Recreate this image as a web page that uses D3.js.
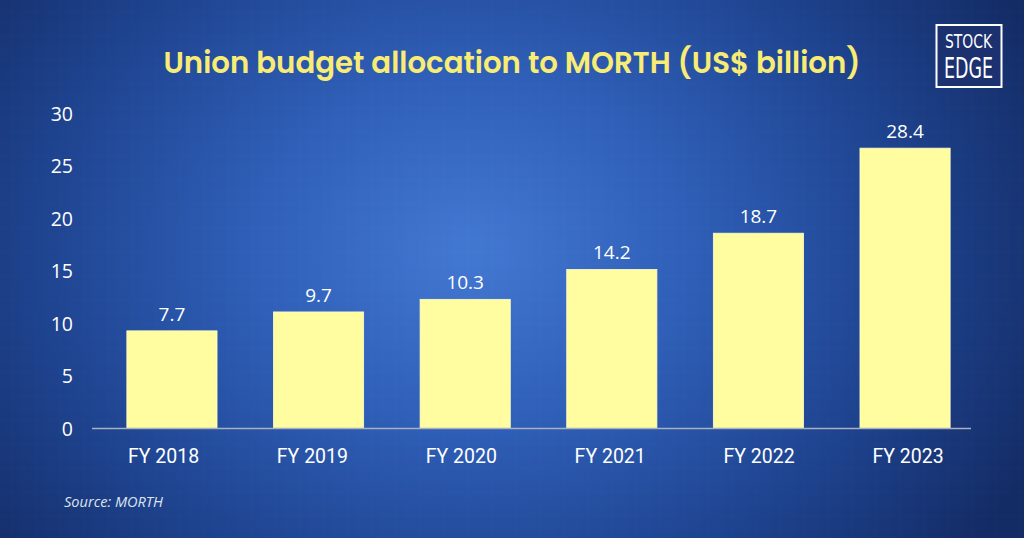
<!DOCTYPE html>
<html><head><meta charset="utf-8">
<script src="https://cdn.jsdelivr.net/npm/d3@7"></script>
<style>html,body{margin:0;padding:0;background:#16306e;}svg{display:block;}</style>
</head><body>
<svg id="c" width="1024" height="538"></svg>
<script>
const categories = ["FY 2018","FY 2019","FY 2020","FY 2021","FY 2022","FY 2023"];
// bar heights as drawn in the picture
const barValues = [9.3, 11.1, 12.3, 15.15, 18.6, 26.7];
// printed value labels
const labelValues = ["7.7","9.7","10.3","14.2","18.7","28.4"];
const yTicks = [0,5,10,15,20,25,30];
const title = "Union budget allocation to MORTH (US$ billion)";
const source = "Source: MORTH";

const svg = d3.select("#c");
const defs = svg.append("defs");
const rg = defs.append("radialGradient").attr("id","bg")
  .attr("gradientUnits","userSpaceOnUse").attr("cx",470).attr("cy",250).attr("r",620)
  .attr("gradientTransform","matrix(1,0,0,0.8,0,50)");
rg.append("stop").attr("offset","0").attr("stop-color","#4378d2");
rg.append("stop").attr("offset","0.35").attr("stop-color","#2f5fb8");
rg.append("stop").attr("offset","0.7").attr("stop-color","#1e438f");
rg.append("stop").attr("offset","1").attr("stop-color","#142c66");
svg.append("rect").attr("width",1024).attr("height",538).attr("fill","url(#bg)");

// faint grid texture
const gridG = svg.append("g").attr("stroke","#ffffff").attr("stroke-opacity",0.02);
d3.range(0,1024,12).forEach(x=>gridG.append("line").attr("x1",x).attr("x2",x).attr("y1",0).attr("y2",538));
d3.range(0,538,12).forEach(y=>gridG.append("line").attr("y1",y).attr("y2",y).attr("x1",0).attr("x2",1024));

const x = d3.scaleBand().domain(categories).range([99,978]).paddingInner(0.385).paddingOuter(0.19);
const xLab = d3.scalePoint().domain(categories).range([163,907.5]);
const y = d3.scaleLinear().domain([0,30]).range([428.5,113.5]);

// title
svg.append("text").attr("x",512).attr("y",73).attr("text-anchor","middle")
  .attr("font-family","Poppins, 'Open Sans', sans-serif").attr("font-weight",600)
  .attr("font-size",30).attr("fill","#f8ec74")
  .attr("textLength",697).attr("lengthAdjust","spacingAndGlyphs").text(title);

// y axis labels
const yAxis = d3.axisLeft(y).tickValues(yTicks).tickSize(0).tickPadding(0);
const ya = svg.append("g").attr("transform","translate(73,0)").call(yAxis);
ya.select(".domain").remove();
ya.selectAll("text").attr("font-family","'Open Sans', sans-serif").attr("font-size",19.5)
  .attr("fill","#ffffff").attr("dy","0.35em");

// bars
svg.append("g").selectAll("rect").data(categories).join("rect")
  .attr("x",d=>x(d)).attr("width",x.bandwidth())
  .attr("y",(d,i)=>y(barValues[i])).attr("height",(d,i)=>y(0)-y(barValues[i]))
  .attr("fill","#fffd9f").attr("stroke","#fffcc8").attr("stroke-width",0.8);

// value labels
svg.append("g").selectAll("text").data(categories).join("text")
  .attr("x",d=>x(d)+x.bandwidth()/2).attr("y",(d,i)=>y(barValues[i])-10)
  .attr("text-anchor","middle").attr("font-family","'Open Sans', sans-serif")
  .attr("font-size",19).attr("fill","#ffffff").text((d,i)=>labelValues[i]);

// x axis line
svg.append("line").attr("x1",92).attr("x2",971).attr("y1",y(0)).attr("y2",y(0))
  .attr("stroke","#a9b0bf").attr("stroke-width",1.5);
// x axis labels
const xAxis = d3.axisBottom(xLab).tickSize(0).tickPadding(0);
const xa = svg.append("g").attr("transform",`translate(0,${y(0)})`).call(xAxis);
xa.select(".domain").remove();
xa.selectAll("text").attr("y",34).attr("dy",0).attr("font-family","Roboto, sans-serif")
  .attr("font-size",19.5).attr("fill","#ffffff");

// source
svg.append("text").attr("x",64).attr("y",507).attr("font-family","'Open Sans', sans-serif")
  .attr("font-style","italic").attr("font-size",14).attr("fill","#dfe4ee")
  .attr("textLength",99).attr("lengthAdjust","spacingAndGlyphs").text(source);

// logo
const lg = svg.append("g");
lg.append("rect").attr("x",936.5).attr("y",25).attr("width",65).attr("height",62)
  .attr("fill","#1c3170").attr("stroke","#ffffff").attr("stroke-width",2);
lg.append("text").attr("x",945).attr("y",48).attr("font-family","'DejaVu Sans Condensed', sans-serif")
  .attr("font-weight",300).attr("font-size",19).attr("fill","#ffffff")
  .attr("textLength",47).attr("lengthAdjust","spacingAndGlyphs").text("STOCK");
lg.append("text").attr("x",944).attr("y",78).attr("font-family","'DejaVu Sans Condensed', sans-serif")
  .attr("font-weight",300).attr("font-size",29).attr("fill","#ffffff")
  .attr("textLength",49).attr("lengthAdjust","spacingAndGlyphs").text("EDGE");
</script>
</body></html>
